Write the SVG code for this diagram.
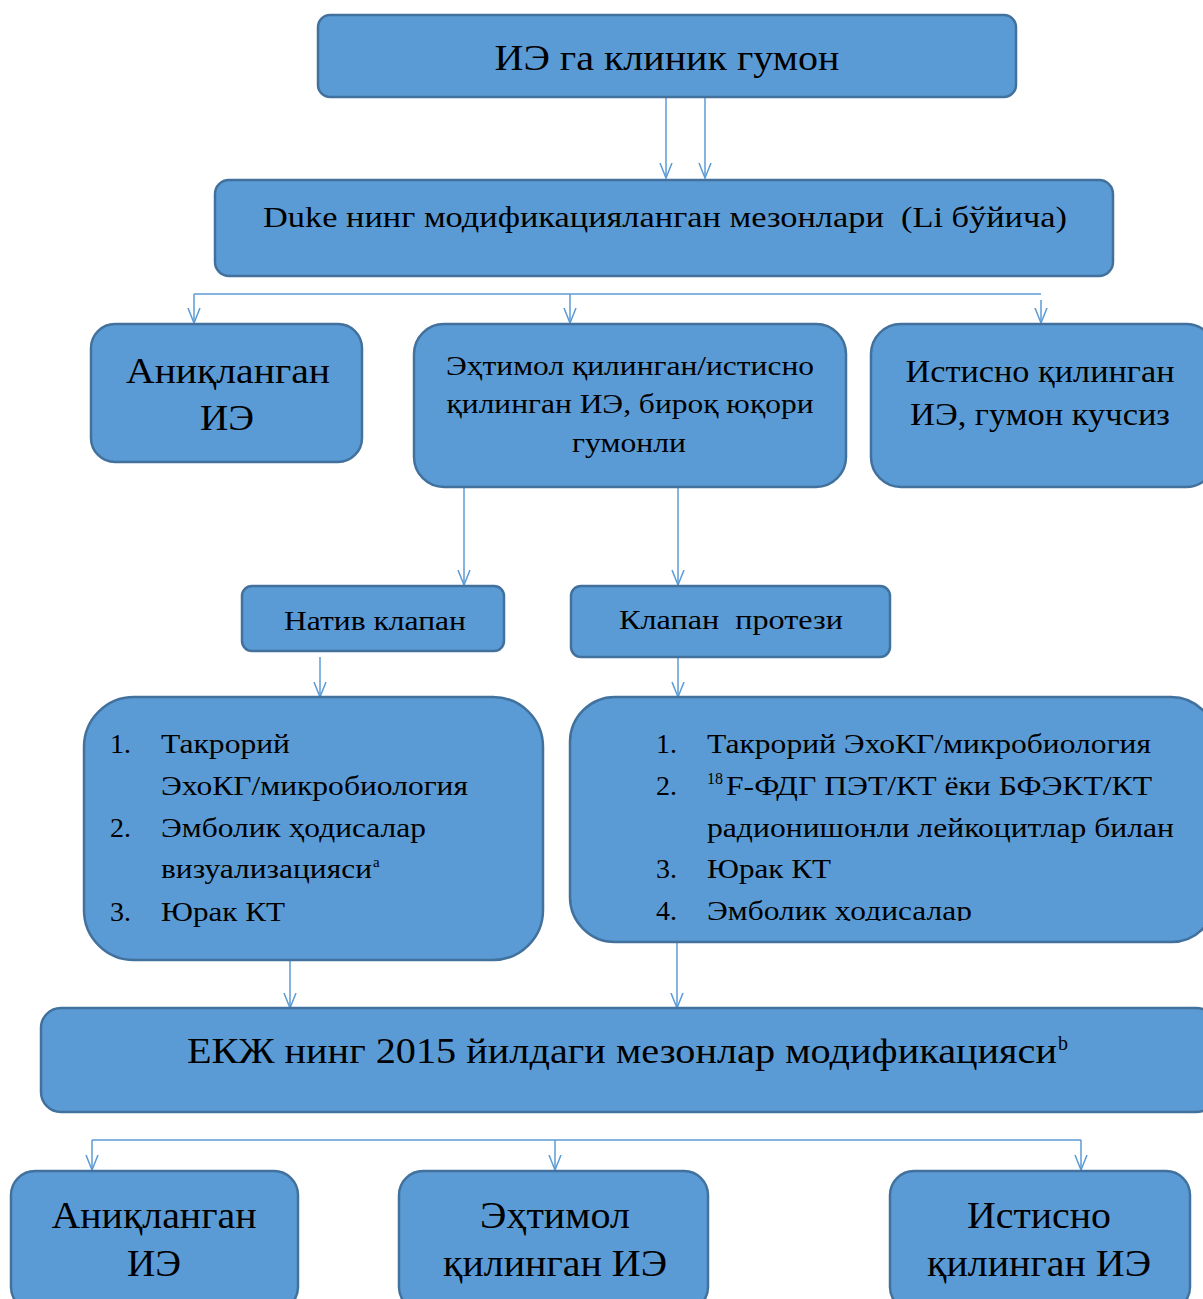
<svg xmlns="http://www.w3.org/2000/svg" width="1203" height="1299" viewBox="0 0 1203 1299">
<defs>
<style>
.box{fill:#5b9bd5;stroke:#41719c;stroke-width:2.5}
.t{font-family:"Liberation Serif","Times New Roman",serif;fill:#000}
.c{text-anchor:middle}
.ln{stroke:#5b9bd5;stroke-width:1.5;fill:none}
.arr{stroke:#5b9bd5;stroke-width:1.5;fill:none;marker-end:url(#ah)}
</style>
<marker id="ah" markerUnits="userSpaceOnUse" markerWidth="16" markerHeight="14" viewBox="0 0 16 14" refX="15" refY="7" orient="auto">
<path d="M0,1 L15,7 L0,13" fill="none" stroke="#5b9bd5" stroke-width="1.5"/>
</marker>
<clipPath id="clipE"><rect x="600" y="890" width="600" height="31"/></clipPath>
</defs>
<g id="connectors">
<line class="arr" x1="666" y1="97" x2="666" y2="178"/>
<line class="arr" x1="705" y1="97" x2="705" y2="178"/>
<line class="ln" x1="194" y1="294" x2="1041" y2="294"/>
<line class="arr" x1="194" y1="294" x2="194" y2="323"/>
<line class="arr" x1="570" y1="294" x2="570" y2="323"/>
<line class="arr" x1="1041" y1="300" x2="1041" y2="323"/>
<line class="arr" x1="464" y1="488" x2="464" y2="585"/>
<line class="arr" x1="678" y1="488" x2="678" y2="585"/>
<line class="arr" x1="320" y1="657" x2="320" y2="697"/>
<line class="arr" x1="678" y1="658" x2="678" y2="697"/>
<line class="arr" x1="290" y1="960" x2="290" y2="1008"/>
<line class="arr" x1="677" y1="943" x2="677" y2="1008"/>
<line class="ln" x1="92" y1="1140" x2="1081" y2="1140"/>
<line class="arr" x1="92" y1="1140" x2="92" y2="1170"/>
<line class="arr" x1="555" y1="1140" x2="555" y2="1170"/>
<line class="arr" x1="1081" y1="1140" x2="1081" y2="1170"/>
</g>
<g id="n1">
<rect class="box" x="318" y="15" width="698" height="82" rx="12"/>
<text class="t c" x="667" y="70" font-size="35" textLength="345" lengthAdjust="spacingAndGlyphs">ИЭ га клиник гумон</text>
</g>
<g id="n2">
<rect class="box" x="215" y="180" width="898" height="96" rx="14"/>
<text class="t" x="263" y="227" font-size="30" textLength="804" lengthAdjust="spacingAndGlyphs" xml:space="preserve">Duke нинг модификацияланган мезонлари  (Li бўйича)</text>
</g>
<g id="n3">
<rect class="box" x="91" y="324" width="271" height="138" rx="24"/>
<text class="t c" x="228" y="383" font-size="35" textLength="204" lengthAdjust="spacingAndGlyphs">Аниқланган</text>
<text class="t c" x="227" y="430" font-size="35" textLength="54" lengthAdjust="spacingAndGlyphs">ИЭ</text>
</g>
<g id="n4">
<rect class="box" x="414" y="324" width="432" height="163" rx="30"/>
<text class="t c" x="630" y="375" font-size="27" textLength="368" lengthAdjust="spacingAndGlyphs">Эҳтимол қилинган/истисно</text>
<text class="t c" x="630" y="413" font-size="27" textLength="367" lengthAdjust="spacingAndGlyphs">қилинган ИЭ, бироқ юқори</text>
<text class="t c" x="629" y="452" font-size="27" textLength="114" lengthAdjust="spacingAndGlyphs">гумонли</text>
</g>
<g id="n5">
<rect class="box" x="871" y="324" width="345" height="163" rx="30"/>
<text class="t c" x="1040" y="382" font-size="31" textLength="269" lengthAdjust="spacingAndGlyphs">Истисно қилинган</text>
<text class="t c" x="1040" y="425" font-size="31" textLength="260" lengthAdjust="spacingAndGlyphs">ИЭ, гумон кучсиз</text>
</g>
<g id="n6">
<rect class="box" x="242" y="586" width="262" height="65" rx="10"/>
<text class="t c" x="375" y="630" font-size="27" textLength="182" lengthAdjust="spacingAndGlyphs">Натив клапан</text>
</g>
<g id="n7">
<rect class="box" x="571" y="586" width="319" height="71" rx="10"/>
<text class="t c" x="731" y="629" font-size="27" textLength="224" lengthAdjust="spacingAndGlyphs" xml:space="preserve">Клапан  протези</text>
</g>
<g id="n8">
<rect class="box" x="84" y="697" width="459" height="263" rx="50"/>
<g class="t" font-size="28" lengthAdjust="spacingAndGlyphs">
<text x="110" y="753">1.</text><text x="161" y="753" textLength="129" lengthAdjust="spacingAndGlyphs">Такрорий</text>
<text x="161" y="795" textLength="307" lengthAdjust="spacingAndGlyphs">ЭхоКГ/микробиология</text>
<text x="110" y="837">2.</text><text x="161" y="837" textLength="265" lengthAdjust="spacingAndGlyphs">Эмболик ҳодисалар</text>
<text x="161" y="878" textLength="211" lengthAdjust="spacingAndGlyphs">визуализацияси</text><text x="373" y="867" font-size="15">a</text>
<text x="110" y="921">3.</text><text x="161" y="921" textLength="124" lengthAdjust="spacingAndGlyphs">Юрак КТ</text>
</g>
</g>
<g id="n9">
<rect class="box" x="570" y="697" width="646" height="245" rx="45"/>
<g class="t" font-size="28">
<text x="656" y="753">1.</text><text x="707" y="753" textLength="444" lengthAdjust="spacingAndGlyphs">Такрорий ЭхоКГ/микробиология</text>
<text x="656" y="795">2.</text><text x="707" y="784" font-size="16">18</text><text x="726" y="795" textLength="426" lengthAdjust="spacingAndGlyphs">F-ФДГ ПЭТ/КТ ёки БФЭКТ/КТ</text>
<text x="707" y="837" textLength="467" lengthAdjust="spacingAndGlyphs">радионишонли лейкоцитлар билан</text>
<text x="656" y="878">3.</text><text x="707" y="878" textLength="124" lengthAdjust="spacingAndGlyphs">Юрак КТ</text>
<text x="656" y="920">4.</text><text x="707" y="920" clip-path="url(#clipE)" textLength="265" lengthAdjust="spacingAndGlyphs">Эмболик ҳодисалар</text>
</g>
</g>
<g id="n10">
<rect class="box" x="41" y="1008" width="1175" height="104" rx="20"/>
<text class="t" x="187" y="1063" font-size="35" textLength="870" lengthAdjust="spacingAndGlyphs">ЕКЖ нинг 2015 йилдаги мезонлар модификацияси</text>
<text class="t" x="1058" y="1050" font-size="20">b</text>
</g>
<g id="n11">
<rect class="box" x="11" y="1171" width="287" height="140" rx="24"/>
<text class="t c" x="154" y="1228" font-size="37" textLength="205" lengthAdjust="spacingAndGlyphs">Аниқланган</text>
<text class="t c" x="154" y="1276" font-size="37" textLength="54" lengthAdjust="spacingAndGlyphs">ИЭ</text>
</g>
<g id="n12">
<rect class="box" x="399" y="1171" width="309" height="140" rx="24"/>
<text class="t c" x="555" y="1228" font-size="37" textLength="150" lengthAdjust="spacingAndGlyphs">Эҳтимол</text>
<text class="t c" x="555" y="1276" font-size="37" textLength="224" lengthAdjust="spacingAndGlyphs">қилинган ИЭ</text>
</g>
<g id="n13">
<rect class="box" x="890" y="1171" width="300" height="140" rx="24"/>
<text class="t c" x="1039" y="1228" font-size="37" textLength="144" lengthAdjust="spacingAndGlyphs">Истисно</text>
<text class="t c" x="1039" y="1276" font-size="37" textLength="224" lengthAdjust="spacingAndGlyphs">қилинган ИЭ</text>
</g>
</svg>
